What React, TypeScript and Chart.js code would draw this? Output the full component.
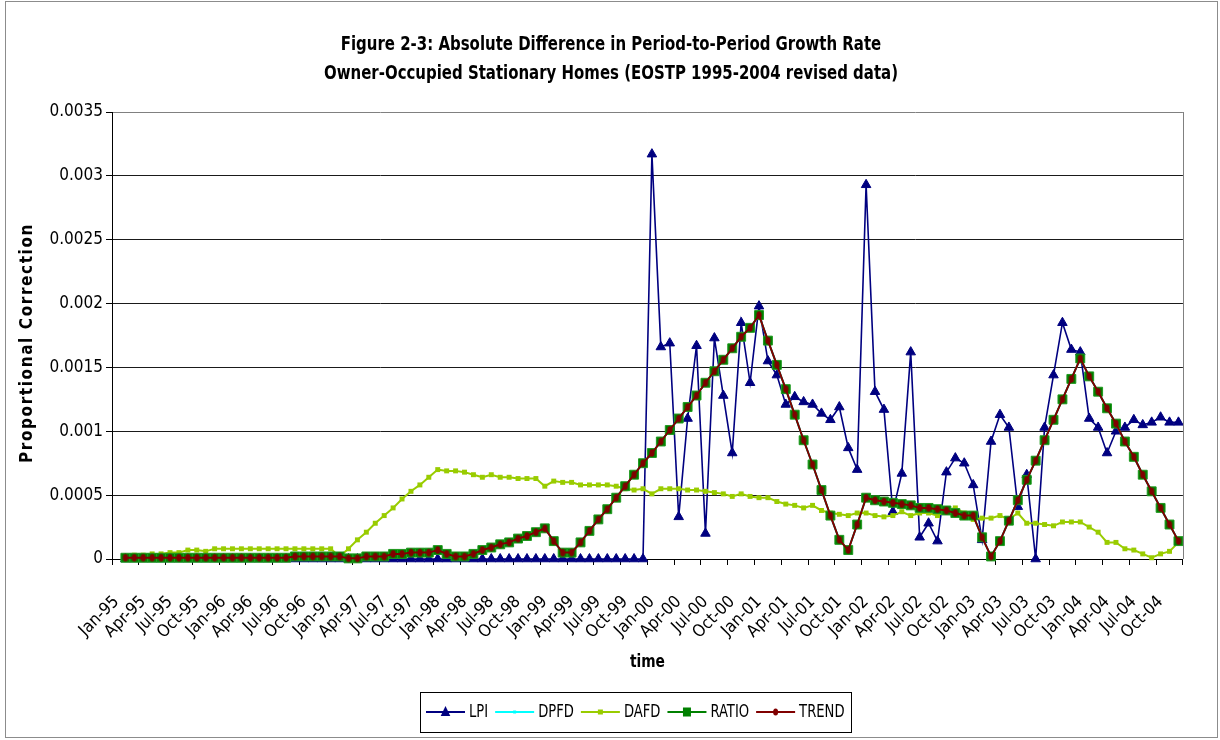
import React, { useEffect, useRef } from "react";
import { Chart, registerables } from "chart.js";

Chart.register(...registerables);

// ---------- categories ----------
const MONTHS = ["Jan", "Feb", "Mar", "Apr", "May", "Jun", "Jul", "Aug", "Sep", "Oct", "Nov", "Dec"];
const YEARS = ["95", "96", "97", "98", "99", "00", "01", "02", "03", "04"];
const CATEGORIES: string[] = YEARS.flatMap((y) => MONTHS.map((m) => `${m}-${y}`));

// ---------- series (Jan-95 .. Dec-04; first period has no growth rate) ----------
const LPI: (number | null)[] = [
  null, 0, 0, 0, 0, 0, 0, 0, 0, 0, 0, 0,
  0, 0, 0, 0, 0, 0, 0, 0, 0, 0, 0, 0,
  0, 0, 0, 0, 0, 0, 0, 0, 0, 0, 0, 0,
  0, 0, 0, 0, 0, 0, 0, 0, 0, 0, 0, 0,
  0, 0, 0, 0, 0, 0, 0, 0, 0, 0, 0, 0,
  0.00317, 0.00166, 0.00169, 0.00033, 0.0011, 0.00167, 0.0002, 0.00173, 0.00128, 0.00083, 0.00185, 0.00138,
  0.00198, 0.00155, 0.00144, 0.00121, 0.00127, 0.00123, 0.00121, 0.00114, 0.00109, 0.00119, 0.00087, 0.0007,
  0.00293, 0.00131, 0.00117, 0.00037, 0.00067, 0.00162, 0.00017, 0.00028, 0.00014, 0.00068, 0.00079, 0.00075,
  0.00058, 0.00015, 0.00092, 0.00113, 0.00103, 0.00041, 0.00066, 0.0, 0.00103, 0.00144, 0.00185, 0.00164,
  0.00162, 0.0011, 0.00103, 0.00083, 0.001, 0.00103, 0.00109, 0.00105, 0.00107, 0.00111, 0.00107, 0.00107,
];

const DPFD: (number | null)[] = [
  null, 0.00001, 0.00001, 0.00001, 0.00001, 0.00001, 0.00001, 0.00001, 0.00001, 0.00001, 0.00001, 0.00001,
  0.00001, 0.00001, 0.00001, 0.00001, 0.00001, 0.00001, 0.00001, 0.00001, 0.00002, 0.00002, 0.00002, 0.00002,
  0.00002, 0.00002, 0.000005, 0.000005, 0.00002, 0.00002, 0.00002, 0.00004, 0.00004, 0.00005, 0.00005, 0.00005,
  0.00007, 0.00004, 0.00002, 0.00002, 0.00004, 0.00007, 0.00009, 0.000115, 0.00013, 0.00016, 0.00018, 0.00021,
  0.00024, 0.00014, 0.00005, 0.00005, 0.00013, 0.00022, 0.00031, 0.00039, 0.00048, 0.00057, 0.00066, 0.00075,
  0.00083, 0.00092, 0.00101, 0.0011, 0.00119, 0.00128, 0.00138, 0.00147, 0.00156, 0.00165, 0.00174, 0.00181,
  0.00191, 0.00171, 0.00152, 0.00133, 0.00113, 0.00093, 0.00074, 0.00054, 0.00034, 0.00015, 0.00007, 0.00027,
  0.00048, 0.00046, 0.00045, 0.00044, 0.00043, 0.00042, 0.0004, 0.0004, 0.00039, 0.00038, 0.00036, 0.00034,
  0.00034, 0.00017, 0.00002, 0.00014, 0.0003, 0.00046, 0.00062, 0.00077, 0.00093, 0.00109, 0.00125, 0.00141,
  0.00157, 0.00143, 0.00131, 0.00118, 0.00106, 0.00092, 0.0008, 0.00066, 0.00053, 0.0004, 0.00027, 0.00014,
];

const DAFD: (number | null)[] = [
  null, 0.00002, 0.00003, 0.00003, 0.00004, 0.00004, 0.00005, 0.00005, 0.00007, 0.00007, 0.00006, 0.00008,
  0.00008, 0.00008, 0.00008, 0.00008, 0.00008, 0.00008, 0.00008, 0.00008, 0.00008, 0.00008, 0.00008, 0.00008,
  0.00008, 0.00002, 0.00008, 0.00015, 0.00021, 0.00028, 0.00034, 0.0004, 0.00047, 0.00053, 0.00058, 0.00064,
  0.0007, 0.00069, 0.00069, 0.00068, 0.00066, 0.00064, 0.00066, 0.00064, 0.00064, 0.00063, 0.00063, 0.00063,
  0.00057, 0.00061, 0.0006, 0.0006, 0.00058, 0.00058, 0.00058, 0.00058, 0.00057, 0.00055, 0.00054, 0.00055,
  0.00051, 0.00055, 0.00055, 0.00055, 0.00054, 0.00054, 0.00053, 0.00052, 0.00051, 0.00049, 0.00051, 0.00049,
  0.00048, 0.00048, 0.00045, 0.00043, 0.00042, 0.0004, 0.00042, 0.00038, 0.00036, 0.00035, 0.00034, 0.00036,
  0.00036, 0.00034, 0.00033, 0.00034, 0.00037, 0.00034, 0.00036, 0.00036, 0.00034, 0.00038, 0.0004, 0.00036,
  0.00031, 0.00032, 0.00032, 0.00034, 0.00031, 0.00036, 0.00028, 0.00028, 0.00027, 0.00026, 0.00029, 0.00029,
  0.00029, 0.00025, 0.00021, 0.00013, 0.00013, 0.00008, 0.00007, 0.00004, 0.00001, 0.00004, 0.00006, 0.00013,
];

const RATIO: (number | null)[] = [
  null, 0.00001, 0.00001, 0.00001, 0.00001, 0.00001, 0.00001, 0.00001, 0.00001, 0.00001, 0.00001, 0.00001,
  0.00001, 0.00001, 0.00001, 0.00001, 0.00001, 0.00001, 0.00001, 0.00001, 0.00002, 0.00002, 0.00002, 0.00002,
  0.00002, 0.00002, 0.000005, 0.000005, 0.00002, 0.00002, 0.00002, 0.00004, 0.00004, 0.00005, 0.00005, 0.00005,
  0.00007, 0.00004, 0.00002, 0.00002, 0.00004, 0.00007, 0.00009, 0.000115, 0.00013, 0.00016, 0.00018, 0.00021,
  0.00024, 0.00014, 0.00005, 0.00005, 0.00013, 0.00022, 0.00031, 0.00039, 0.00048, 0.00057, 0.00066, 0.00075,
  0.00083, 0.00092, 0.00101, 0.0011, 0.00119, 0.00128, 0.00138, 0.00147, 0.00156, 0.00165, 0.00174, 0.00181,
  0.00191, 0.00171, 0.00152, 0.00133, 0.00113, 0.00093, 0.00074, 0.00054, 0.00034, 0.00015, 0.00007, 0.00027,
  0.00048, 0.00046, 0.00045, 0.00044, 0.00043, 0.00042, 0.0004, 0.0004, 0.00039, 0.00038, 0.00036, 0.00034,
  0.00034, 0.00017, 0.00002, 0.00014, 0.0003, 0.00046, 0.00062, 0.00077, 0.00093, 0.00109, 0.00125, 0.00141,
  0.00157, 0.00143, 0.00131, 0.00118, 0.00106, 0.00092, 0.0008, 0.00066, 0.00053, 0.0004, 0.00027, 0.00014,
];

const TREND: (number | null)[] = [
  null, 0.00001, 0.00001, 0.00001, 0.00001, 0.00001, 0.00001, 0.00001, 0.00001, 0.00001, 0.00001, 0.00001,
  0.00001, 0.00001, 0.00001, 0.00001, 0.00001, 0.00001, 0.00001, 0.00001, 0.00002, 0.00002, 0.00002, 0.00002,
  0.00002, 0.00002, 0.000005, 0.000005, 0.00002, 0.00002, 0.00002, 0.00004, 0.00004, 0.00005, 0.00005, 0.00005,
  0.00007, 0.00004, 0.00002, 0.00002, 0.00004, 0.00007, 0.00009, 0.000115, 0.00013, 0.00016, 0.00018, 0.00021,
  0.00024, 0.00014, 0.00005, 0.00005, 0.00013, 0.00022, 0.00031, 0.00039, 0.00048, 0.00057, 0.00066, 0.00075,
  0.00083, 0.00092, 0.00101, 0.0011, 0.00119, 0.00128, 0.00138, 0.00147, 0.00156, 0.00165, 0.00174, 0.00181,
  0.00191, 0.00171, 0.00152, 0.00133, 0.00113, 0.00093, 0.00074, 0.00054, 0.00034, 0.00015, 0.00007, 0.00027,
  0.00048, 0.00046, 0.00045, 0.00044, 0.00043, 0.00042, 0.0004, 0.0004, 0.00039, 0.00038, 0.00036, 0.00034,
  0.00034, 0.00017, 0.00002, 0.00014, 0.0003, 0.00046, 0.00062, 0.00077, 0.00093, 0.00109, 0.00125, 0.00141,
  0.00157, 0.00143, 0.00131, 0.00118, 0.00106, 0.00092, 0.0008, 0.00066, 0.00053, 0.0004, 0.00027, 0.00014,
];

// ---------- texts ----------
const TITLE_LINES = [
  "Figure 2-3: Absolute Difference in Period-to-Period Growth Rate",
  "Owner-Occupied Stationary Homes (EOSTP 1995-2004 revised data)",
];
const X_TITLE = "time";
const Y_TITLE = "Proportional Correction";
const Y_MIN = 0;
const Y_MAX = 0.0035;
const Y_STEP = 0.0005;

const FONT = "'Liberation Sans Narrow', 'Arial Narrow', 'DejaVu Sans Condensed', 'Liberation Sans', sans-serif";

const C_LPI = "#000080";
const C_DPFD = "#00FFFF";
const C_DAFD = "#99CC00";
const C_RATIO = "#008000";
const C_TREND = "#800000";

type Marker = "triangle" | "rectSmall" | "rectTiny" | "rectBig" | "ellipse";
const LEGEND: { label: string; color: string; marker: Marker; fill: string }[] = [
  { label: "LPI", color: C_LPI, marker: "triangle", fill: C_LPI },
  { label: "DPFD", color: C_DPFD, marker: "rectTiny", fill: C_DPFD },
  { label: "DAFD", color: C_DAFD, marker: "rectSmall", fill: C_DAFD },
  { label: "RATIO", color: C_RATIO, marker: "rectBig", fill: C_RATIO },
  { label: "TREND", color: C_TREND, marker: "ellipse", fill: C_TREND },
];

function makeEllipse(color: string, rx: number, ry: number): HTMLCanvasElement {
  const c = document.createElement("canvas");
  c.width = Math.ceil(rx * 2) + 2;
  c.height = Math.ceil(ry * 2) + 2;
  const g = c.getContext("2d")!;
  g.fillStyle = color;
  g.beginPath();
  g.ellipse(c.width / 2, c.height / 2, rx, ry, 0, 0, Math.PI * 2);
  g.fill();
  return c;
}

function drawMarker(ctx: CanvasRenderingContext2D, m: Marker, x: number, y: number, fill: string) {
  ctx.fillStyle = fill;
  ctx.beginPath();
  if (m === "triangle") {
    ctx.moveTo(x, y - 6);
    ctx.lineTo(x + 4.8, y + 4);
    ctx.lineTo(x - 4.8, y + 4);
    ctx.closePath();
    ctx.fill();
  } else if (m === "rectBig") {
    ctx.rect(x - 4, y - 4.5, 8, 9);
    ctx.fill();
  } else if (m === "rectSmall") {
    ctx.rect(x - 2.5, y - 2.5, 5, 5);
    ctx.fill();
  } else if (m === "rectTiny") {
    ctx.rect(x - 1.5, y - 1.5, 3, 3);
    ctx.fill();
  } else {
    ctx.ellipse(x, y, 2.5, 3.5, 0, 0, Math.PI * 2);
    ctx.fill();
  }
}

// text drawn horizontally compressed (narrow look)
function narrowText(ctx: CanvasRenderingContext2D, text: string, x: number, y: number, sx: number, align: CanvasTextAlign) {
  ctx.save();
  ctx.translate(x, y);
  ctx.scale(sx, 1);
  ctx.textAlign = align;
  ctx.fillText(text, 0, 0);
  ctx.restore();
}

const decorPlugin = {
  id: "decor",
  afterDraw(chart: any) {
    const ctx = chart.ctx as CanvasRenderingContext2D;
    const a = chart.chartArea;
    ctx.save();

    // plot area right border
    ctx.strokeStyle = "#808080";
    ctx.lineWidth = 1;
    ctx.beginPath();
    ctx.moveTo(Math.round(a.right) + 0.5, a.top);
    ctx.lineTo(Math.round(a.right) + 0.5, a.bottom);
    ctx.stroke();

    // outer frame
    ctx.strokeStyle = "#8c8c8c";
    ctx.strokeRect(5.5, 1.5, 1212, 736);

    // title
    ctx.fillStyle = "#000";
    ctx.textBaseline = "middle";
    ctx.font = `bold 19px ${FONT}`;
    narrowText(ctx, TITLE_LINES[0], 611, 45, 0.875, "center");
    narrowText(ctx, TITLE_LINES[1], 611, 74, 0.875, "center");

    // x title
    ctx.font = `bold 17px ${FONT}`;
    narrowText(ctx, X_TITLE, (a.left + a.right) / 2, 663, 0.9, "center");

    // y title
    ctx.save();
    ctx.translate(28, 343);
    ctx.rotate(-Math.PI / 2);
    ctx.textAlign = "center";
    (ctx as any).letterSpacing = "1.6px";
    ctx.fillText(Y_TITLE, 0, 0);
    ctx.restore();

    // legend
    ctx.font = `17px ${FONT}`;
    const SX = 0.86;
    const LINE = 39, G1 = 4, G2 = 7, PAD = 6, BOX_H = 40;
    const widths = LEGEND.map((s) => ctx.measureText(s.label).width * SX);
    const total = widths.reduce((s, w) => s + LINE + G1 + w, 0) + G2 * (LEGEND.length - 1) + 2 * PAD;
    const bx = Math.round(635 - total / 2);
    const by = 692;
    ctx.fillStyle = "#fff";
    ctx.fillRect(bx, by, total, BOX_H);
    ctx.strokeStyle = "#000";
    ctx.lineWidth = 1;
    ctx.strokeRect(bx + 0.5, by + 0.5, Math.round(total), BOX_H);
    let x = bx + PAD;
    const ly = by + BOX_H / 2;
    LEGEND.forEach((item, i) => {
      ctx.strokeStyle = item.color;
      ctx.lineWidth = 2;
      ctx.beginPath();
      ctx.moveTo(x, ly);
      ctx.lineTo(x + LINE, ly);
      ctx.stroke();
      drawMarker(ctx, item.marker, x + LINE / 2, ly, item.fill);
      x += LINE + G1;
      ctx.fillStyle = "#000";
      ctx.textBaseline = "middle";
      narrowText(ctx, item.label, x, ly + 1, SX, "left");
      x += widths[i] + G2;
    });

    ctx.restore();
  },
};

export default function App() {
  const canvasRef = useRef<HTMLCanvasElement | null>(null);

  useEffect(() => {
    if (!canvasRef.current) return;
    const trendDot = makeEllipse(C_TREND, 2.6, 3.8);

    const chart = new Chart(canvasRef.current, {
      type: "line",
      data: {
        labels: CATEGORIES,
        datasets: [
          {
            label: "LPI",
            data: LPI,
            borderColor: C_LPI,
            backgroundColor: C_LPI,
            borderWidth: 1.6,
            pointStyle: "triangle",
            pointRadius: 5.5,
            pointBorderWidth: 1,
            pointBackgroundColor: C_LPI,
            pointBorderColor: C_LPI,
            tension: 0,
            clip: false as any,
            order: 5,
          },
          {
            label: "DPFD",
            data: DPFD,
            borderColor: C_DPFD,
            backgroundColor: C_DPFD,
            borderWidth: 2,
            pointStyle: "rect",
            pointRadius: 2,
            pointBorderWidth: 0,
            tension: 0,
            clip: false as any,
            order: 4,
          },
          {
            label: "DAFD",
            data: DAFD,
            borderColor: C_DAFD,
            backgroundColor: C_DAFD,
            borderWidth: 2,
            pointStyle: "rect",
            pointRadius: 3.5,
            pointBorderWidth: 0,
            tension: 0,
            clip: false as any,
            order: 3,
          },
          {
            label: "RATIO",
            data: RATIO,
            borderColor: C_RATIO,
            backgroundColor: C_RATIO,
            borderWidth: 1.5,
            pointStyle: "rect",
            pointRadius: 6.3,
            pointBorderWidth: 1,
            pointBackgroundColor: C_RATIO,
            pointBorderColor: "#1f9a1f",
            tension: 0,
            clip: false as any,
            order: 2,
          },
          {
            label: "TREND",
            data: TREND,
            borderColor: C_TREND,
            backgroundColor: C_TREND,
            borderWidth: 2,
            pointStyle: trendDot as any,
            pointRadius: 3,
            tension: 0,
            clip: false as any,
            order: 1,
          },
        ],
      },
      options: {
        animation: false,
        responsive: false,
        maintainAspectRatio: false,
        devicePixelRatio: 1,
        events: [],
        layout: { padding: { left: 0, top: 112, right: 31, bottom: 0 } },
        plugins: {
          legend: { display: false },
          title: { display: false },
          tooltip: { enabled: false },
        },
        scales: {
          x: {
            type: "category",
            offset: true,
            grid: {
              display: true,
              drawOnChartArea: false,
              drawTicks: true,
              tickLength: 6,
              offset: true,
              lineWidth: 1,
              color: (c: any) =>
                c.index === undefined || c.index % 3 === 0 ? "#000" : "rgba(0,0,0,0)",
            },
            border: { display: true, color: "#000", width: 1 },
            ticks: {
              autoSkip: false,
              minRotation: 45,
              maxRotation: 45,
              padding: 27,
              color: "#000",
              font: { family: FONT, size: 17 },
              callback: (_v: any, i: number) => (i % 3 === 0 ? CATEGORIES[i] : ""),
            },
            afterFit: (s: any) => {
              s.height = 181;
            },
          },
          y: {
            min: Y_MIN,
            max: Y_MAX,
            ticks: {
              stepSize: Y_STEP,
              padding: 3,
              color: "#000",
              font: { family: FONT, size: 17 },
              callback: (v: any) => {
                const n = Number(v);
                return n === 0 ? "0" : String(parseFloat(n.toFixed(4)));
              },
            },
            grid: {
              color: (c: any) =>
                c.tick && Math.abs(c.tick.value - Y_MAX) < 1e-9 ? "#808080" : "#1a1a1a",
              lineWidth: 1,
              drawTicks: true,
              tickLength: 6,
              tickColor: "#000",
            },
            border: { display: true, color: "#000", width: 1 },
            afterFit: (s: any) => {
              s.width = 112;
            },
          },
        },
      },
      plugins: [decorPlugin],
    });

    return () => {
      chart.destroy();
    };
  }, []);

  return (
    <div style={{ position: "absolute", left: 0, top: 0, width: 1220, height: 740, background: "#fff" }}>
      <canvas ref={canvasRef} width={1220} height={740} style={{ display: "block" }} />
    </div>
  );
}
